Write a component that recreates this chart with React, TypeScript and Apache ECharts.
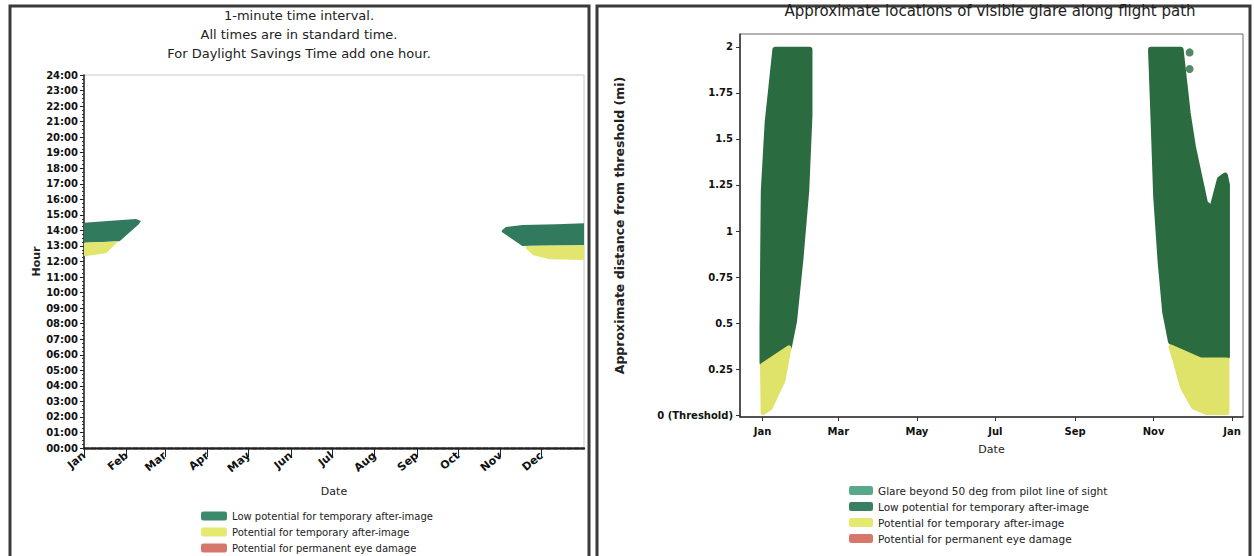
import React, { useEffect, useRef } from "react";
import * as echarts from "echarts";

const FONT = "DejaVu Sans";

// ---------- Left chart (hour of day vs date) ----------
const MONTHS = ["Jan", "Feb", "Mar", "Apr", "May", "Jun", "Jul", "Aug", "Sep", "Oct", "Nov", "Dec"];
const MONTH_START_DAYS = [0, 31, 59, 90, 120, 151, 181, 212, 243, 273, 304, 334];
const HOUR_TICKS = [0, 1, 2, 3, 4, 5, 6, 7, 8, 9, 10, 11, 12, 13, 14, 15, 16, 17, 18, 19, 20, 21, 22, 23, 24];

// glare regions: [day of year, hour]
const LEFT_LOW_POTENTIAL: number[][][] = [
  [[0, 14.5], [20, 14.62], [38, 14.74], [41.5, 14.6], [40, 14.4], [26, 13.3], [0, 13.2]],
  [[305, 14.0], [308, 14.22], [320, 14.35], [345, 14.4], [365, 14.46], [365, 13.05], [326, 13.02], [320, 13.0], [305, 13.9]],
];
const LEFT_POTENTIAL: number[][][] = [
  [[0, 13.2], [25, 13.28], [21, 12.95], [16.5, 12.55], [2, 12.35], [0, 12.35]],
  [[322, 13.0], [365, 13.05], [365, 12.1], [340, 12.15], [328, 12.4], [323, 12.8]],
];

// ---------- Right chart (distance from threshold vs date) ----------
const RIGHT_TICK_DAYS = [0, 59, 120, 181, 243, 304, 365];
const RIGHT_TICK_LABELS = ["Jan", "Mar", "May", "Jul", "Sep", "Nov", "Jan"];
const DIST_TICKS = [0, 0.25, 0.5, 0.75, 1, 1.25, 1.5, 1.75, 2];
const DIST_LABELS = ["0 (Threshold)", "0.25", "0.5", "0.75", "1", "1.25", "1.5", "1.75", "2"];

// glare regions: [day of year, distance]
const RIGHT_LOW_POTENTIAL: number[][][] = [
  [[10, 1.985], [36.5, 1.985], [36.5, 1.63], [34, 1.22], [29.5, 0.85], [24.5, 0.51], [20.5, 0.37], [0, 0.285], [0, 0.48], [1, 1.22], [4, 1.59]],
  [[302, 1.985], [325, 1.985], [330.5, 1.64], [334.5, 1.46], [340, 1.28], [344, 1.15], [349.5, 1.12], [355.5, 1.28], [359.5, 1.3], [361, 1.25], [361, 0.32], [340.5, 0.32], [317.5, 0.4], [313, 0.56], [309.5, 0.83], [306, 1.19], [304, 1.6]],
];
const RIGHT_POTENTIAL: number[][][] = [
  [[0, 0.27], [20.5, 0.365], [16, 0.19], [6, 0.04], [0.5, 0.015]],
  [[317.5, 0.37], [340.5, 0.3], [361, 0.3], [361, 0.015], [345, 0.015], [335, 0.045], [326.5, 0.15], [320.5, 0.3]],
];
const RIGHT_STRAY_POINTS: number[][] = [[332, 1.97], [332, 1.88]];

const NAME_BEYOND = "Glare beyond 50 deg from pilot line of sight";
const NAME_LOW = "Low potential for temporary after-image";
const NAME_POT = "Potential for temporary after-image";
const NAME_PERM = "Potential for permanent eye damage";

const LEFT_GREEN = "#317a5d";
const LEFT_YELLOW = "#e2e66e";
const RIGHT_GREEN = "#2b6b40";
const RIGHT_YELLOW = "#dfe36a";

function polySeries(name: string, polys: number[][][], color: string, axis: number, stroke: number) {
  return {
    type: "custom",
    name,
    xAxisIndex: axis,
    yAxisIndex: axis,
    clip: true,
    silent: true,
    data: polys.map((_, i) => [polys[i][0][0], polys[i][0][1], i]),
    renderItem: (params: any, api: any) => {
      const poly = polys[params.dataIndex];
      const points = poly.map((p) => api.coord(p));
      return {
        type: "polygon",
        shape: { points },
        style: {
          fill: color,
          stroke: stroke > 0 ? color : null,
          lineWidth: stroke,
          lineJoin: "round",
        },
      };
    },
  };
}

export default function App() {
  const ref = useRef<HTMLDivElement>(null);
  useEffect(() => {
    if (!ref.current) return;
    const chart = echarts.init(ref.current, null, { renderer: "svg" });
    const tickLabel = { fontFamily: FONT, fontSize: 10, color: "#111", fontWeight: "bold" as const };
    chart.setOption({
      animation: false,
      backgroundColor: "#fff",
      grid: [
        { left: 84, top: 75, width: 500, height: 373, show: true, borderColor: "#c8c8c8", borderWidth: 1 },
        { left: 740, top: 34, width: 503, height: 383, show: true, borderColor: "#666", borderWidth: 1 },
      ],
      xAxis: [
        {
          type: "value",
          gridIndex: 0,
          min: 0,
          max: 365,
          name: "Date",
          nameLocation: "middle",
          nameGap: 38,
          nameTextStyle: { fontFamily: FONT, fontSize: 11, color: "#222" },
          splitLine: { show: false },
          axisLine: { onZero: false, lineStyle: { color: "#222", width: 2.5, type: [5, 2] } },
          axisTick: { customValues: MONTH_START_DAYS, length: 9, lineStyle: { color: "#222" } },
          axisLabel: {
            customValues: MONTH_START_DAYS,
            rotate: 40,
            margin: 6,
            ...tickLabel,
            fontSize: 11,
            formatter: (v: number) => MONTHS[MONTH_START_DAYS.indexOf(v)] ?? "",
          },
        },
        {
          type: "value",
          gridIndex: 1,
          min: -17.5,
          max: 373.5,
          name: "Date",
          nameLocation: "middle",
          nameGap: 27,
          nameTextStyle: { fontFamily: FONT, fontSize: 11, color: "#222" },
          splitLine: { show: false },
          axisLine: { onZero: false, lineStyle: { color: "#333", width: 1.5 } },
          axisTick: { customValues: RIGHT_TICK_DAYS, length: 4, lineStyle: { color: "#333" } },
          axisLabel: {
            customValues: RIGHT_TICK_DAYS,
            margin: 9,
            ...tickLabel,
            formatter: (v: number) => RIGHT_TICK_LABELS[RIGHT_TICK_DAYS.indexOf(v)] ?? "",
          },
        },
      ],
      yAxis: [
        {
          type: "value",
          gridIndex: 0,
          min: 0,
          max: 24,
          interval: 1,
          name: "Hour",
          nameLocation: "middle",
          nameGap: 42,
          nameTextStyle: { fontFamily: FONT, fontSize: 11, color: "#222", fontWeight: "bold" },
          splitLine: { show: false },
          axisLine: { show: true, onZero: false, lineStyle: { color: "#222", width: 1.5 } },
          axisTick: { length: 4, lineStyle: { color: "#222" } },
          minorTick: { show: true, splitNumber: 4, length: 2, lineStyle: { color: "#333" } },
          axisLabel: {
            ...tickLabel,
            margin: 6,
            customValues: HOUR_TICKS,
            formatter: (v: number) => String(v).padStart(2, "0") + ":00",
          },
        },
        {
          type: "value",
          gridIndex: 1,
          min: -0.01,
          max: 2.07,
          name: "Approximate distance from threshold (mi)",
          nameLocation: "middle",
          nameGap: 114,
          nameTextStyle: { fontFamily: FONT, fontSize: 12.5, color: "#222", fontWeight: "bold" },
          splitLine: { show: false },
          axisLine: { show: true, onZero: false, lineStyle: { color: "#333", width: 1.5 } },
          axisTick: { customValues: DIST_TICKS, length: 4, lineStyle: { color: "#333" } },
          axisLabel: {
            ...tickLabel,
            margin: 7,
            customValues: DIST_TICKS,
            formatter: (v: number) => DIST_LABELS[DIST_TICKS.indexOf(v)] ?? "",
          },
        },
      ],
      legend: [
        {
          orient: "vertical",
          left: 196,
          top: 506,
          height: 80,
          icon: "roundRect",
          itemWidth: 26,
          itemHeight: 9,
          itemGap: 6,
          selectedMode: false,
          textStyle: { fontFamily: FONT, fontSize: 10, color: "#222" },
          data: [
            { name: NAME_LOW, itemStyle: { color: "#3b8a6b" } },
            { name: NAME_POT, itemStyle: { color: "#e6e970" } },
            { name: NAME_PERM, itemStyle: { color: "#d6776c" } },
          ],
        },
        {
          orient: "vertical",
          left: 844,
          top: 480,
          icon: "roundRect",
          itemWidth: 24,
          itemHeight: 9,
          itemGap: 5,
          selectedMode: false,
          textStyle: { fontFamily: FONT, fontSize: 10.5, color: "#222" },
          data: [
            { name: NAME_BEYOND, itemStyle: { color: "#5aa88a" } },
            { name: NAME_LOW, itemStyle: { color: "#3a7f62" } },
            { name: NAME_POT, itemStyle: { color: "#e6e970" } },
            { name: NAME_PERM, itemStyle: { color: "#d6776c" } },
          ],
        },
      ],
      graphic: [
        { type: "rect", shape: { x: 10, y: 6, width: 579, height: 600 }, style: { fill: "none", stroke: "#3a3a3a", lineWidth: 3 } },
        { type: "rect", shape: { x: 597, y: 6, width: 653, height: 600 }, style: { fill: "none", stroke: "#3a3a3a", lineWidth: 3 } },
        {
          type: "text",
          x: 299,
          y: 6,
          style: {
            text: "1-minute time interval.\nAll times are in standard time.\nFor Daylight Savings Time add one hour.",
            align: "center",
            verticalAlign: "top",
            lineHeight: 19,
            font: `13px "${FONT}"`,
            fill: "#222",
          },
        },
        {
          type: "text",
          x: 990,
          y: 3,
          style: {
            text: "Approximate locations of visible glare along flight path",
            align: "center",
            verticalAlign: "top",
            font: `15px "${FONT}"`,
            fill: "#222",
          },
        },
      ],
      series: [
        polySeries(NAME_LOW, LEFT_LOW_POTENTIAL, LEFT_GREEN, 0, 0),
        polySeries(NAME_POT, LEFT_POTENTIAL, LEFT_YELLOW, 0, 0),
        { type: "line", name: NAME_PERM, xAxisIndex: 0, yAxisIndex: 0, data: [], itemStyle: { color: "#d6776c" } },
        { type: "line", name: NAME_BEYOND, xAxisIndex: 1, yAxisIndex: 1, data: [], itemStyle: { color: "#5aa88a" } },
        polySeries(NAME_LOW, RIGHT_LOW_POTENTIAL, RIGHT_GREEN, 1, 6),
        polySeries(NAME_POT, RIGHT_POTENTIAL, RIGHT_YELLOW, 1, 5),
        {
          type: "scatter",
          name: NAME_LOW,
          xAxisIndex: 1,
          yAxisIndex: 1,
          symbolSize: 8,
          silent: true,
          itemStyle: { color: RIGHT_GREEN },
          data: RIGHT_STRAY_POINTS,
        },
      ],
    });
    return () => chart.dispose();
  }, []);
  return (
    <div
      ref={ref}
      style={{ position: "fixed", left: 0, top: 0, width: 1254, height: 600, background: "#fff" }}
    />
  );
}
